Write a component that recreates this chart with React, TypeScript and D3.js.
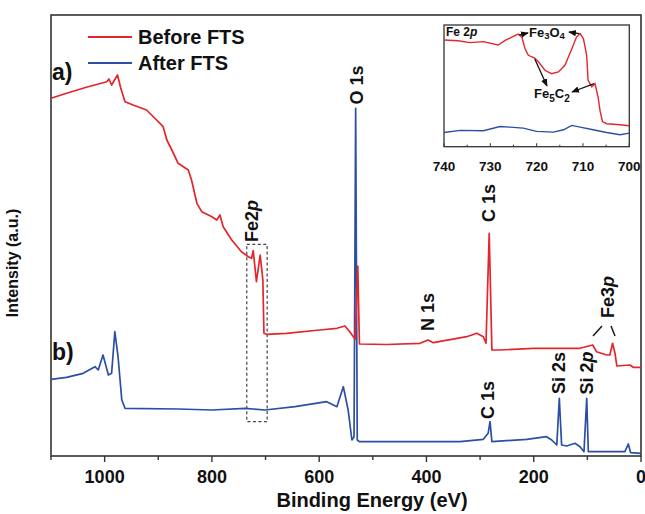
import React from "react";
import * as d3 from "d3";

// ---------- Main survey spectrum data ----------
const redEnergy = [1100, 1071, 1034, 996, 992, 987, 976, 970, 962, 947, 922, 903, 891, 884, 872, 863, 844, 838, 828, 819, 800, 791, 785, 779, 763, 745, 732, 726, 723, 717, 710, 705, 703, 698, 661, 599, 567, 552, 543, 533, 528, 525, 474, 412, 397, 387, 325, 306, 294, 289, 283, 278, 263, 201, 114, 90, 83, 64, 58, 53, 48.5, 45, 20.5, 14.4, 0];
const redIntensity = [357.7, 362.7, 368.7, 374.3, 377, 371, 381, 368, 354.3, 351, 346, 336, 329.3, 316, 303, 292.7, 286, 276, 252.7, 244.3, 239.3, 236, 241, 229.3, 216, 204.3, 199.3, 197.7, 205.3, 174.3, 201, 176, 122.7, 121.7, 122.7, 126, 127.7, 130, 124.3, 116.7, 190, 112, 111.5, 112.7, 116, 113.3, 119.3, 122.7, 119.3, 112.7, 222.7, 106, 106, 107.7, 107.7, 111, 104.3, 101, 101, 112.7, 102.7, 90, 91, 88.7, 88.7];

const blueEnergy = [1100, 1071, 1040, 1018, 1012, 1003, 993, 987, 981, 975, 968, 962, 863, 800, 738, 701, 645, 586, 567, 555, 546, 539, 535, 532, 529, 525, 412, 337, 294, 285, 281.5, 278, 213, 176, 166.5, 157, 152.3, 148, 138.5, 123, 113.7, 106.3, 101.2, 98.2, 76.5, 30, 23.7, 19.3, 0];
const blueIntensity = [76.7, 78.7, 82.7, 89.3, 86, 101, 81, 82.7, 124.3, 99.3, 56, 47.7, 47, 46, 47.7, 46, 49.3, 54.3, 49.3, 69.3, 46, 16, 19.3, 347.7, 16, 14.3, 14.3, 14.3, 16.7, 22.7, 34.3, 14.3, 16.7, 19.3, 16, 11, 57.7, 11, 10, 12.7, 9.3, 4.3, 57.7, 4.3, 4.3, 4.3, 12, 3.3, 2.7];

const xTickValues = [1100, 1000, 900, 800, 700, 600, 500, 400, 300, 200, 100, 0];
const xTickLabels = [1000, 800, 600, 400, 200, 0];

// Fe 2p window marked on the survey
const fe2pWindow = [735, 697];

// ---------- Inset (Fe 2p) data ----------
const insetRedEnergy = [740, 737, 734.4, 731.5, 728.3, 726.8, 724, 723.2, 722.5, 721.8, 720.4, 719.6, 718.2, 716.8, 715.3, 713.9, 712.4, 711.4, 710.6, 709.9, 709.2, 708.9, 708.1, 707.4, 706.7, 706.3, 705.8, 704.9, 702, 700];
const insetRedIntensity = [87.7, 87, 85.5, 86.3, 83.6, 87.4, 92.5, 90.1, 80.5, 75.1, 72.9, 69.6, 62.8, 60, 61.4, 66.9, 80.5, 90.1, 92.9, 88.7, 75.1, 54.6, 49.1, 51.8, 40, 29.3, 20.7, 18.9, 18, 17.2];
const insetBlueEnergy = [740, 736.5, 731.5, 727.9, 725.8, 722.9, 720, 716.4, 714.2, 712.4, 710.6, 707.8, 704.9, 702, 700];
const insetBlueIntensity = [11.7, 13.4, 13.1, 16.6, 16.1, 15.3, 12.6, 12, 13.9, 17.5, 16.1, 13.9, 11.7, 9.8, 11.2];
const insetTickLabels = [740, 730, 720, 710, 700];
const insetMinorTicks = [735, 725, 715, 705];

const RED = "#e3262b";
const BLUE = "#2b4fa3";
const FONT = "'Liberation Sans', Arial, Helvetica, sans-serif";

export default function App() {
  const W = 645, H = 514;
  const left = 51, right = 641, top = 15, bottom = 456;

  const x = d3.scaleLinear().domain([1100, 0]).range([left, right]);
  const y = d3.scaleLinear().domain([0, 441]).range([bottom, top]);

  const mainLine = d3.line<[number, number]>().x(d => x(d[0])).y(d => y(d[1]));
  const redPath = mainLine(redEnergy.map((e, i) => [e, redIntensity[i]]) as [number, number][]) || "";
  const bluePath = mainLine(blueEnergy.map((e, i) => [e, blueIntensity[i]]) as [number, number][]) || "";

  // inset
  const iL = 444, iR = 629.3, iT = 25, iB = 146.7;
  const ix = d3.scaleLinear().domain([740, 700]).range([iL, iR]);
  const iy = d3.scaleLinear().domain([0, 100]).range([iB, iT]);
  const insetLine = d3.line<[number, number]>().x(d => ix(d[0])).y(d => iy(d[1]));
  const insetRed = insetLine(insetRedEnergy.map((e, i) => [e, insetRedIntensity[i]]) as [number, number][]) || "";
  const insetBlue = insetLine(insetBlueEnergy.map((e, i) => [e, insetBlueIntensity[i]]) as [number, number][]) || "";

  const peakLabel = (cx: number, cy: number, main: string, italic?: string, key?: string) => (
    <text key={key} transform={`translate(${cx},${cy}) rotate(-90)`} textAnchor="middle" dominantBaseline="central"
      fontFamily={FONT} fontWeight="bold" fontSize={18} fill="#111">
      {main}{italic ? <tspan fontStyle="italic">{italic}</tspan> : null}
    </text>
  );

  const arrow = (x1: number, y1: number, x2: number, y2: number, k: string) => (
    <line key={k} x1={x1} y1={y1} x2={x2} y2={y2} stroke="#111" strokeWidth={1.3} markerEnd="url(#arrowHead)" />
  );

  return (
    <svg width={W} height={H} style={{ position: "absolute", left: 0, top: 0, background: "#fff" }}>
      <defs>
        <marker id="arrowHead" viewBox="0 0 10 10" refX="9" refY="5" markerWidth="6" markerHeight="6" orient="auto-start-reverse">
          <path d="M0,1 L10,5 L0,9 Z" fill="#111" />
        </marker>
      </defs>

      {/* frame */}
      <rect x={left} y={top} width={right - left} height={bottom - top} fill="none" stroke="#333" strokeWidth={1.6} />

      {/* dashed Fe 2p window */}
      <rect x={x(fe2pWindow[0])} y={244.3} width={x(fe2pWindow[1]) - x(fe2pWindow[0])} height={421.7 - 244.3}
        fill="none" stroke="#444" strokeWidth={1.2} strokeDasharray="3,2.5" />

      {/* spectra */}
      <path d={bluePath} fill="none" stroke={BLUE} strokeWidth={1.7} strokeLinejoin="round" />
      <path d={redPath} fill="none" stroke={RED} strokeWidth={1.7} strokeLinejoin="round" />

      {/* x axis ticks */}
      {xTickValues.map(v => (
        <line key={`t${v}`} x1={x(v)} x2={x(v)} y1={bottom} y2={bottom + (v % 200 === 0 ? 6 : 4)} stroke="#333" strokeWidth={1.4} />
      ))}
      {xTickLabels.map(v => (
        <text key={`l${v}`} x={x(v)} y={483} textAnchor="middle" fontFamily={FONT} fontWeight="bold" fontSize={18} fill="#111">{v}</text>
      ))}
      <text x={372} y={507} textAnchor="middle" fontFamily={FONT} fontWeight="bold" fontSize={20} fill="#111">Binding Energy (eV)</text>
      <text transform="translate(12,263) rotate(-90)" textAnchor="middle" dominantBaseline="central" fontFamily={FONT} fontWeight="bold" fontSize={16} fill="#111">Intensity (a.u.)</text>

      {/* legend */}
      <line x1={88} x2={132} y1={37} y2={37} stroke={RED} strokeWidth={2} />
      <text x={138} y={44} fontFamily={FONT} fontWeight="bold" fontSize={20} fill="#111">Before FTS</text>
      <line x1={88} x2={132} y1={63} y2={63} stroke={BLUE} strokeWidth={2} />
      <text x={138} y={70} fontFamily={FONT} fontWeight="bold" fontSize={20} fill="#111">After FTS</text>

      {/* panel labels */}
      <text x={52} y={80} fontFamily={FONT} fontWeight="bold" fontSize={23} fill="#111">a)</text>
      <text x={52} y={360} fontFamily={FONT} fontWeight="bold" fontSize={23} fill="#111">b)</text>

      {/* peak labels */}
      {peakLabel(357, 85, "O 1s", undefined, "o1s")}
      {peakLabel(252, 221, "Fe2", "p", "fe2p")}
      {peakLabel(489, 203, "C 1s", undefined, "c1sa")}
      {peakLabel(428, 312, "N 1s", undefined, "n1s")}
      {peakLabel(608, 297, "Fe3", "p", "fe3p")}
      {peakLabel(488, 400, "C 1s", undefined, "c1sb")}
      {peakLabel(559, 373, "Si 2s", undefined, "si2s")}
      {peakLabel(587, 373, "Si 2", "p", "si2p")}
      <line x1={593} y1={336} x2={602} y2={326} stroke="#111" strokeWidth={1.4} />
      <line x1={611} y1={326} x2={615} y2={336} stroke="#111" strokeWidth={1.4} />

      {/* inset */}
      <rect x={iL} y={iT} width={iR - iL} height={iB - iT} fill="#fff" stroke="#333" strokeWidth={1.3} />
      <path d={insetBlue} fill="none" stroke={BLUE} strokeWidth={1.4} />
      <path d={insetRed} fill="none" stroke={RED} strokeWidth={1.4} />
      {insetTickLabels.map(v => (
        <g key={`it${v}`}>
          <line x1={ix(v)} x2={ix(v)} y1={iB} y2={iB - 3.5} stroke="#333" strokeWidth={1} />
          <text x={ix(v)} y={171} textAnchor="middle" fontFamily={FONT} fontWeight="bold" fontSize={13.5} fill="#111">{v}</text>
        </g>
      ))}
      {insetMinorTicks.map(v => (
        <line key={`im${v}`} x1={ix(v)} x2={ix(v)} y1={iB} y2={iB - 2} stroke="#333" strokeWidth={1} />
      ))}
      <text x={446} y={36} fontFamily={FONT} fontWeight="bold" fontSize={12} fill="#111">Fe 2<tspan fontStyle="italic">p</tspan></text>
      <text x={529} y={37} fontFamily={FONT} fontWeight="bold" fontSize={13} fill="#111">Fe<tspan fontSize={9.5} dy={1.5}>3</tspan><tspan dy={-1.5}>O</tspan><tspan fontSize={9.5} dy={1.5}>4</tspan></text>
      <text x={534} y={98} fontFamily={FONT} fontWeight="bold" fontSize={13} fill="#111">Fe<tspan fontSize={10} dy={4}>5</tspan><tspan dy={-4}>C</tspan><tspan fontSize={10} dy={4}>2</tspan></text>
      {arrow(ix(724) + 1, iy(92.5) + 1, 528, 33, "a1")}
      {arrow(ix(710.6) - 1, iy(92.9), 569, 32, "a2")}
      {arrow(ix(720.4), iy(72.9) + 1, 547, 86, "a3")}
      {arrow(ix(707.4) - 1, iy(51.8), 572, 92, "a4")}
    </svg>
  );
}
